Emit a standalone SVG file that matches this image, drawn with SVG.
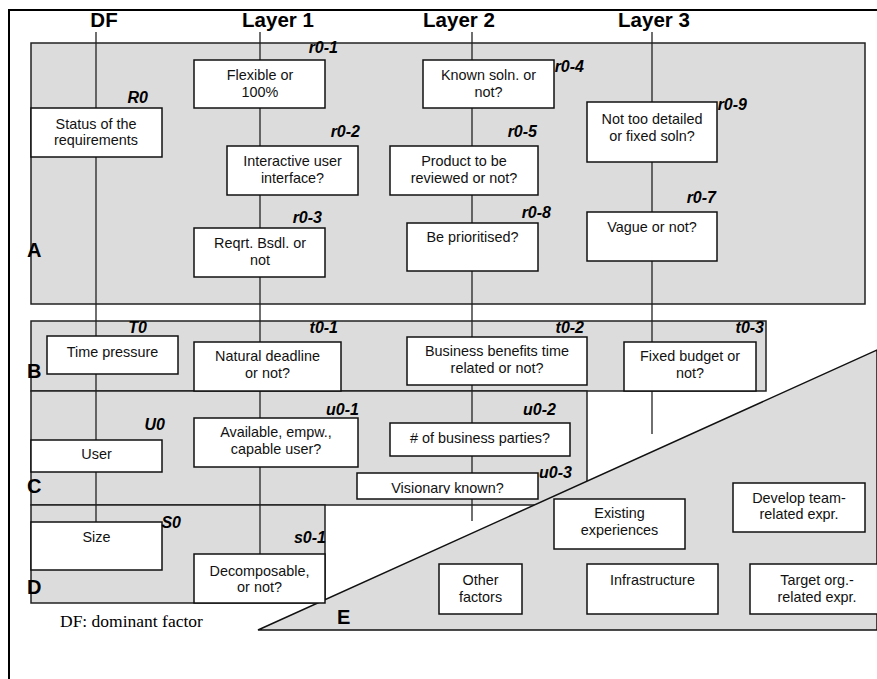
<svg xmlns="http://www.w3.org/2000/svg" width="877" height="679" viewBox="0 0 877 679">
  <defs>
    <style>
      .region { fill: #dcdcdc; stroke: #222; stroke-width: 1.5; }
      .box { fill: #fff; stroke: #111; stroke-width: 1.5; }
      .line { stroke: #222; stroke-width: 1.3; fill: none; }
      .t { font-family: "Liberation Sans", Arial, sans-serif; font-size: 14.4px; fill: #111; text-anchor: middle; }
      .lbl { font-family: "Liberation Sans", Arial, sans-serif; font-size: 16px; font-weight: bold; font-style: italic; fill: #000; text-anchor: end; }
      .hdr { font-family: "Liberation Sans", Arial, sans-serif; font-size: 20.5px; font-weight: bold; fill: #000; text-anchor: middle; }
      .zone { font-family: "Liberation Sans", Arial, sans-serif; font-size: 20px; font-weight: bold; fill: #000; }
      .cap { font-family: "Liberation Serif", "Times New Roman", serif; font-size: 17.5px; fill: #000; }
    </style>
    <clipPath id="clipVis"><rect x="357" y="473" width="181" height="20.8"/></clipPath>
  </defs>

  <rect x="0" y="0" width="877" height="679" fill="#fff"/>

  <!-- outer frame -->
  <path d="M9 679 V10 H877" fill="none" stroke="#000" stroke-width="2"/>

  <!-- column headers -->
  <g id="headers">
    <text class="hdr" x="104" y="27">DF</text>
    <text class="hdr" x="278" y="27">Layer 1</text>
    <text class="hdr" x="459" y="27">Layer 2</text>
    <text class="hdr" x="654" y="27">Layer 3</text>
  </g>

  <!-- regions -->
  <g id="regions">
    <rect id="regionA" class="region" x="31" y="43" width="834" height="261"/>
    <rect id="regionB" class="region" x="31" y="321" width="735" height="70"/>
    <rect id="regionC" class="region" x="31" y="391" width="556" height="114"/>
    <rect id="regionD" class="region" x="31" y="505" width="294" height="98"/>
  </g>

  <!-- connectors (vertical layer lines) -->
  <g id="connectors">
    <line class="line" x1="96" y1="32" x2="96" y2="522"/>
    <line class="line" x1="260" y1="32" x2="260" y2="554"/>
    <line class="line" x1="472" y1="32" x2="472" y2="521"/>
    <line class="line" x1="652" y1="32" x2="652" y2="434"/>
  </g>

  <!-- region E: other factors -->
  <polygon id="regionE" points="258,630 877,350 877,630" fill="#dcdcdc" stroke="#111" stroke-width="1.5"/>

  <!-- region A nodes -->
  <g id="R0">
    <rect class="box" x="31" y="108" width="131" height="49"/>
    <text class="t" x="96" y="129">Status of  the</text>
    <text class="t" x="96" y="145">requirements</text>
  </g>
  <g id="r0-1">
    <rect class="box" x="194" y="60" width="131" height="48"/>
    <text class="t" x="260" y="80">Flexible or</text>
    <text class="t" x="260" y="97">100%</text>
  </g>
  <g id="r0-2">
    <rect class="box" x="227" y="146" width="131" height="49"/>
    <text class="t" x="292.5" y="166">Interactive user</text>
    <text class="t" x="292.5" y="183">interface?</text>
  </g>
  <g id="r0-3">
    <rect class="box" x="194" y="228" width="131" height="49"/>
    <text class="t" x="260" y="248">Reqrt. Bsdl. or</text>
    <text class="t" x="260" y="265">not</text>
  </g>
  <g id="r0-4">
    <rect class="box" x="423" y="60" width="131" height="48"/>
    <text class="t" x="488.5" y="80">Known soln. or</text>
    <text class="t" x="488.5" y="97">not?</text>
  </g>
  <g id="r0-5">
    <rect class="box" x="390" y="146" width="148" height="49"/>
    <text class="t" x="464" y="166">Product to be</text>
    <text class="t" x="464" y="183">reviewed or not?</text>
  </g>
  <g id="r0-8">
    <rect class="box" x="407" y="223" width="131" height="48"/>
    <text class="t" x="472.5" y="242">Be prioritised?</text>
  </g>
  <g id="r0-9">
    <rect class="box" x="587" y="102" width="130" height="60"/>
    <text class="t" x="652" y="124">Not too detailed</text>
    <text class="t" x="652" y="141">or fixed soln?</text>
  </g>
  <g id="r0-7">
    <rect class="box" x="587" y="212" width="130" height="49"/>
    <text class="t" x="652" y="232">Vague or not?</text>
  </g>

  <!-- region B nodes -->
  <g id="T0">
    <rect class="box" x="47" y="336" width="131" height="38"/>
    <text class="t" x="112.5" y="357">Time pressure</text>
  </g>
  <g id="t0-1">
    <rect class="box" x="194" y="342" width="147" height="49"/>
    <text class="t" x="267.5" y="361">Natural deadline</text>
    <text class="t" x="267.5" y="378">or not?</text>
  </g>
  <g id="t0-2">
    <rect class="box" x="407" y="337" width="180" height="48"/>
    <text class="t" x="497" y="356">Business benefits time</text>
    <text class="t" x="497" y="373">related or not?</text>
  </g>
  <g id="t0-3">
    <rect class="box" x="624" y="342" width="132" height="49"/>
    <text class="t" x="690" y="361">Fixed budget or</text>
    <text class="t" x="690" y="378">not?</text>
  </g>

  <!-- region C nodes -->
  <g id="U0">
    <rect class="box" x="31" y="440" width="131" height="32"/>
    <text class="t" x="96.5" y="459">User</text>
  </g>
  <g id="u0-1">
    <rect class="box" x="194" y="418" width="164" height="49"/>
    <text class="t" x="276" y="437">Available, empw.,</text>
    <text class="t" x="276" y="454">capable user?</text>
  </g>
  <g id="u0-2">
    <rect class="box" x="390" y="423" width="180" height="33"/>
    <text class="t" x="480" y="443">#  of business parties?</text>
  </g>
  <g id="u0-3">
    <rect class="box" x="357" y="473" width="181" height="26"/>
    <text class="t" x="447.5" y="493" clip-path="url(#clipVis)">Visionary known?</text>
  </g>

  <!-- region D nodes -->
  <g id="S0">
    <rect class="box" x="31" y="522" width="131" height="48"/>
    <text class="t" x="96.5" y="542">Size</text>
  </g>
  <g id="s0-1">
    <rect class="box" x="194" y="554" width="131" height="49"/>
    <text class="t" x="259.5" y="576">Decomposable,</text>
    <text class="t" x="259.5" y="592">or not?</text>
  </g>

  <!-- region E nodes -->
  <g id="existing">
    <rect class="box" x="554" y="499" width="131" height="50"/>
    <text class="t" x="619.5" y="518">Existing</text>
    <text class="t" x="619.5" y="535">experiences</text>
  </g>
  <g id="develop">
    <rect class="box" x="733" y="483" width="132" height="49"/>
    <text class="t" x="799" y="503">Develop team-</text>
    <text class="t" x="799" y="519">related expr.</text>
  </g>
  <g id="other">
    <rect class="box" x="439" y="564" width="83" height="50"/>
    <text class="t" x="480.5" y="585">Other</text>
    <text class="t" x="480.5" y="602">factors</text>
  </g>
  <g id="infra">
    <rect class="box" x="587" y="564" width="131" height="50"/>
    <text class="t" x="652.5" y="585">Infrastructure</text>
  </g>
  <g id="target">
    <rect class="box" x="750" y="564" width="135" height="50"/>
    <text class="t" x="817" y="585">Target org.-</text>
    <text class="t" x="817" y="602">related expr.</text>
  </g>

  <!-- node labels -->
  <g id="labels">
    <text class="lbl" x="148" y="103">R0</text>
    <text class="lbl" x="338" y="53">r0-1</text>
    <text class="lbl" x="360" y="137">r0-2</text>
    <text class="lbl" x="322" y="223">r0-3</text>
    <text class="lbl" x="584" y="72">r0-4</text>
    <text class="lbl" x="537" y="137">r0-5</text>
    <text class="lbl" x="551" y="218">r0-8</text>
    <text class="lbl" x="747" y="110">r0-9</text>
    <text class="lbl" x="716" y="203">r0-7</text>
    <text class="lbl" x="147" y="333">T0</text>
    <text class="lbl" x="338" y="333">t0-1</text>
    <text class="lbl" x="584" y="333">t0-2</text>
    <text class="lbl" x="764" y="333">t0-3</text>
    <text class="lbl" x="165" y="430">U0</text>
    <text class="lbl" x="359" y="415">u0-1</text>
    <text class="lbl" x="556" y="415">u0-2</text>
    <text class="lbl" x="572" y="478">u0-3</text>
    <text class="lbl" x="181" y="528">S0</text>
    <text class="lbl" x="326" y="543">s0-1</text>
  </g>

  <!-- region letters -->
  <g id="zones">
    <text class="zone" x="27" y="257">A</text>
    <text class="zone" x="27" y="378">B</text>
    <text class="zone" x="27" y="493">C</text>
    <text class="zone" x="27" y="594">D</text>
    <text class="zone" x="337" y="624">E</text>
  </g>

  <text class="cap" x="60" y="627">DF: dominant factor</text>
</svg>
